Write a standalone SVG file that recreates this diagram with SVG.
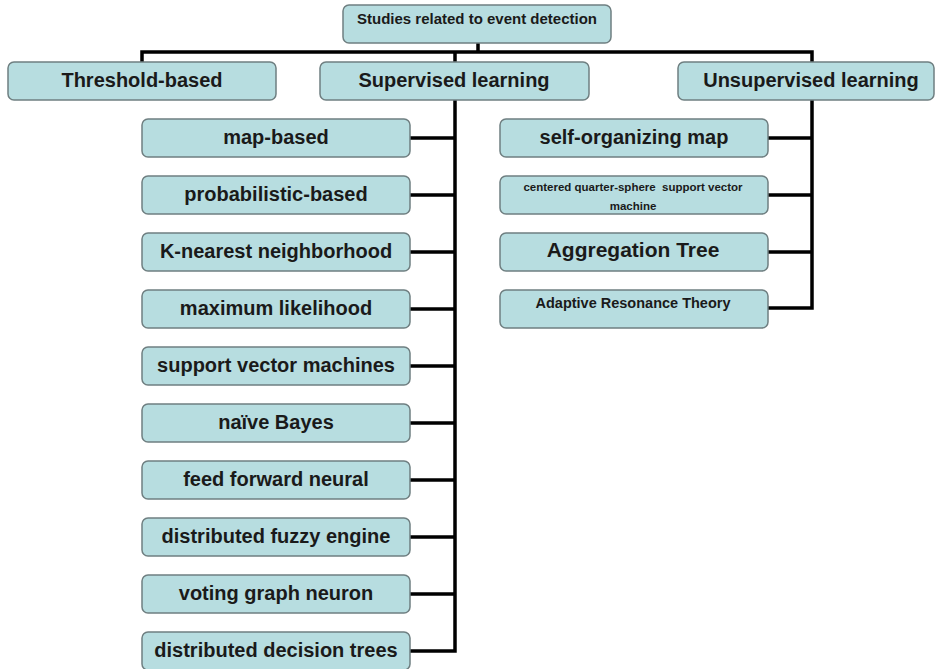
<svg xmlns="http://www.w3.org/2000/svg" width="936" height="669" viewBox="0 0 936 669">
<style>
.box{fill:#b7dde0;stroke:#6f7f81;stroke-width:1.5}
.t{font-family:"Liberation Sans",Arial,sans-serif;font-weight:bold;fill:#1a1a1a;text-anchor:middle}
.m{font-size:20px}
.c{stroke:#000;stroke-width:3.5;fill:none;stroke-linecap:square}
</style>
<rect width="936" height="669" fill="#fff"/>
<g id="connectors">
<path class="c" d="M478 43V52M142 52H812M142 52V62M455 52V62M812 52V62"/>
<path class="c" d="M455 100V651M410 138H455M410 195H455M410 252H455M410 309H455M410 366H455M410 423H455M410 480H455M410 537H455M410 594H455M410 651H455"/>
<path class="c" d="M812 100V308M768 138H812M768 195H812M768 252H812M768 308H812"/>
</g>
<g id="root"><rect class="box" x="343" y="5" width="268" height="38" rx="6"/><text class="t" x="477" y="24" font-size="15">Studies related to event detection</text></g>
<g id="threshold"><rect class="box" x="8" y="62" width="268" height="38" rx="6"/><text class="t m" x="142" y="87">Threshold-based</text></g>
<g id="supervised"><rect class="box" x="320" y="62" width="269" height="38" rx="6"/><text class="t m" x="454" y="87">Supervised learning</text></g>
<g id="unsupervised"><rect class="box" x="678" y="62" width="256" height="38" rx="6"/><text class="t m" x="811" y="87">Unsupervised learning</text></g>
<g id="map-based"><rect class="box" x="142" y="119" width="268" height="38" rx="6"/><text class="t m" x="276" y="144">map-based</text></g>
<g id="probabilistic"><rect class="box" x="142" y="176" width="268" height="38" rx="6"/><text class="t m" x="276" y="201">probabilistic-based</text></g>
<g id="knn"><rect class="box" x="142" y="233" width="268" height="38" rx="6"/><text class="t m" x="276" y="258">K-nearest neighborhood</text></g>
<g id="ml"><rect class="box" x="142" y="290" width="268" height="38" rx="6"/><text class="t m" x="276" y="315">maximum likelihood</text></g>
<g id="svm"><rect class="box" x="142" y="347" width="268" height="38" rx="6"/><text class="t m" x="276" y="372">support vector machines</text></g>
<g id="nb"><rect class="box" x="142" y="404" width="268" height="38" rx="6"/><text class="t m" x="276" y="429">naïve Bayes</text></g>
<g id="ffn"><rect class="box" x="142" y="461" width="268" height="38" rx="6"/><text class="t m" x="276" y="486">feed forward neural</text></g>
<g id="dfe"><rect class="box" x="142" y="518" width="268" height="38" rx="6"/><text class="t m" x="276" y="543">distributed fuzzy engine</text></g>
<g id="vgn"><rect class="box" x="142" y="575" width="268" height="38" rx="6"/><text class="t m" x="276" y="600">voting graph neuron</text></g>
<g id="ddt"><rect class="box" x="142" y="632" width="268" height="38" rx="6"/><text class="t m" x="276" y="657">distributed decision trees</text></g>
<g id="som"><rect class="box" x="500" y="119" width="268" height="38" rx="6"/><text class="t m" x="634" y="144">self-organizing map</text></g>
<g id="cqssvm"><rect class="box" x="500" y="176" width="268" height="38" rx="6"/><text class="t" x="633" y="191" font-size="11.5" style="white-space:pre">centered quarter-sphere  support vector</text><text class="t" x="633" y="210" font-size="11.5">machine</text></g>
<g id="aggtree"><rect class="box" x="500" y="233" width="268" height="38" rx="6"/><text class="t" x="633" y="257" font-size="21" font-weight="normal">Aggregation Tree</text></g>
<g id="art"><rect class="box" x="500" y="290" width="268" height="38" rx="6"/><text class="t" x="633" y="308" font-size="14.5">Adaptive Resonance Theory</text></g>
</svg>
